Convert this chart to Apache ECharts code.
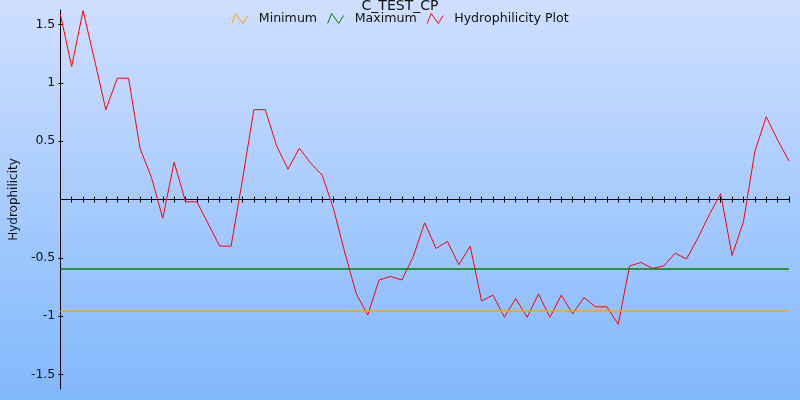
<!DOCTYPE html>
<html>
<head>
<meta charset="utf-8">
<script src="https://cdn.jsdelivr.net/npm/echarts@6/dist/echarts.min.js"></script>
<style>html,body{margin:0;padding:0;}#chart{width:800px;height:400px;}</style>
</head>
<body>
<div id="chart"></div>
<script>
// ---- data ----
var titleText = 'C_TEST_CP';
var yAxisName = 'Hydrophilicity';
var seriesNames = ['Minimum', 'Maximum', 'Hydrophilicity Plot'];
var residues = ['1','2','3','4','5','6','7','8','9','10','11','12','13','14','15','16','17','18','19','20',
  '21','22','23','24','25','26','27','28','29','30','31','32','33','34','35','36','37','38','39','40',
  '41','42','43','44','45','46','47','48','49','50','51','52','53','54','55','56','57','58','59','60',
  '61','62','63','64','65'];
var hydrophilicity = [1.59, 1.14, 1.62, 1.20, 0.77, 1.04, 1.04, 0.44, 0.19, -0.16,
  0.32, -0.02, -0.02, -0.21, -0.40, -0.40, 0.17, 0.77, 0.77, 0.46,
  0.26, 0.44, 0.31, 0.21, -0.08, -0.46, -0.81, -0.99, -0.69, -0.66,
  -0.69, -0.49, -0.20, -0.42, -0.36, -0.56, -0.40, -0.87, -0.82, -1.01,
  -0.85, -1.01, -0.81, -1.01, -0.82, -0.98, -0.84, -0.92, -0.92, -1.07,
  -0.57, -0.54, -0.59, -0.57, -0.46, -0.51, -0.33, -0.13, 0.05, -0.48,
  -0.19, 0.41, 0.71, 0.51, 0.33];
var minimumValue = -0.95;
var maximumValue = -0.59;
var yMin = -1.625;
var yMax = 1.625;
var yTickValues = [-1.5, -1, -0.5, 0.5, 1, 1.5];

// ---- chart ----
var colors = ['#ffa500', '#008000', '#ff0000'];
var zigzag = 'path://M0,11L4,1L11,11L16,3';
var chart = echarts.init(document.getElementById('chart'));
var font = 'DejaVu Sans';

function legendItem(name, color) {
  return { name: name, icon: zigzag,
    itemStyle: { color: 'transparent', borderColor: color, borderWidth: 1 } };
}

chart.setOption({
  animation: false,
  backgroundColor: new echarts.graphic.LinearGradient(0, 0, 0, 1, [
    { offset: 0, color: '#cfdfff' },
    { offset: 1, color: '#80b8fc' }
  ]),
  textStyle: { fontFamily: font },
  title: {
    text: titleText, left: 'center', top: -1, padding: 0,
    textStyle: { fontFamily: font, fontSize: 14, fontWeight: 'normal', color: '#111' }
  },
  legend: {
    top: 12, left: 'center', padding: 0, itemGap: 10, itemWidth: 16, itemHeight: 11,
    textStyle: { fontFamily: font, fontSize: 12.6, color: '#111', padding: [0, 0, 0, 6] },
    data: [legendItem(seriesNames[0], colors[0]), legendItem(seriesNames[1], colors[1]), legendItem(seriesNames[2], colors[2])]
  },
  grid: { left: 59, right: 11, top: 10, bottom: 11, containLabel: false },
  xAxis: [{
    type: 'category', data: residues, boundaryGap: false,
    axisLine: { onZero: true, lineStyle: { color: '#000', width: 1 } },
    axisTick: { show: true, interval: 0, length: 3, inside: false, lineStyle: { color: '#000' } },
    axisLabel: { show: false }, splitLine: { show: false }
  }, {
    type: 'category', data: residues, boundaryGap: false, position: 'bottom',
    axisLine: { show: false, onZero: true, lineStyle: { color: '#000' } },
    axisTick: { show: true, interval: 0, length: 3, inside: true, lineStyle: { color: '#000' } },
    axisLabel: { show: false }, splitLine: { show: false }
  }],
  yAxis: [{
    type: 'value', min: yMin, max: yMax, position: 'left',
    name: yAxisName, nameLocation: 'middle', nameGap: 36, nameRotate: 90,
    nameTextStyle: { fontFamily: font, fontSize: 12, color: '#111' },
    axisLine: { show: true, onZero: false, lineStyle: { color: '#000', width: 1 } },
    axisTick: { show: true, length: 2, customValues: yTickValues, lineStyle: { color: '#000' } },
    axisLabel: { show: true, margin: 5, customValues: yTickValues, fontFamily: font, fontSize: 12.5, color: '#111',
      formatter: function (v) { return String(v); } },
    splitLine: { show: false }
  }, {
    type: 'value', min: yMin, max: yMax, position: 'left', offset: 0,
    axisLine: { show: false, onZero: false },
    axisTick: { show: true, inside: true, length: 3, customValues: yTickValues, lineStyle: { color: '#000' } },
    axisLabel: { show: false }, splitLine: { show: false }
  }],
  series: [{
    name: seriesNames[0], type: 'line', data: [], color: colors[0],
    markLine: { silent: true, symbol: 'none', label: { show: false },
      lineStyle: { color: colors[0], width: 1.5, type: 'solid' },
      data: [{ yAxis: minimumValue }] }
  }, {
    name: seriesNames[1], type: 'line', data: [], color: colors[1],
    markLine: { silent: true, symbol: 'none', label: { show: false },
      lineStyle: { color: colors[1], width: 1.5, type: 'solid' },
      data: [{ yAxis: maximumValue }] }
  }, {
    name: seriesNames[2], type: 'line', data: hydrophilicity, color: colors[2],
    showSymbol: false, lineStyle: { color: colors[2], width: 1 }
  }]
});
</script>
</body>
</html>
